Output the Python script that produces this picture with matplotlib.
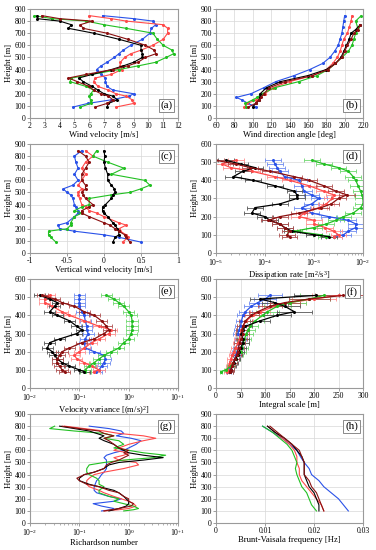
import numpy as np
import matplotlib.pyplot as plt
from matplotlib.ticker import FixedLocator, FixedFormatter, NullFormatter, LogLocator

plt.rcParams['font.family'] = ['Liberation Serif', 'DejaVu Serif']
plt.rcParams['mathtext.fontset'] = 'custom'
plt.rcParams['mathtext.rm'] = 'Liberation Serif'
plt.rcParams['mathtext.it'] = 'Liberation Serif:italic'

# colours of the five profiles
colors = ['#2a52e8', '#ff4a4a', '#22c022', '#000000', '#8b1010']
err_colors = ['#6f8cf0', '#ff8f8f', '#6fd86f', '#555555', '#b05050']

# ---- (a) wind velocity [m/s]
h_a = [90, 120, 150, 180, 200, 230, 260, 300, 330, 360, 400, 430, 460, 500, 530, 560, 600, 650, 700, 740, 770, 800, 820, 845]
vel_blue = [4.9, 5.9, 7.5, 8.7, 9.0, 7.6, 7.2, 7.1, 7.1, 6.8, 6.5, 6.8, 7.2, 7.7, 8.0, 8.3, 8.8, 9.6, 10.1, 10.2, 10.5, 10.3, 9.0, 6.9]
vel_red = [7.8, 9.0, 8.9, 8.5, 7.8, 7.3, 6.6, 6.3, 6.4, 7.5, 8.2, 8.1, 8.1, 8.4, 8.8, 9.5, 10.3, 11.0, 11.3, 11.3, 11.0, 8.5, 7.5, 6.0]
vel_green = [5.4, 6.1, 6.1, 6.0, 6.1, 6.3, 5.8, 4.7, 4.8, 6.2, 8.0, 9.3, 10.5, 11.2, 11.7, 11.6, 11.0, 10.6, 10.3, 8.5, 7.0, 5.8, 3.5, 2.3]
vel_black = [7.2, 7.3, 7.9, 7.6, 7.0, 6.6, 6.2, 5.6, 5.3, 6.2, 7.5, 8.3, 9.0, 9.6, 9.6, 9.5, 9.5, 8.0, 6.3, 4.6, 4.8, 4.0, 2.5, 2.5]
vel_darkred = [6.4, 7.2, 7.6, 7.3, 6.8, 6.3, 6.0, 5.2, 4.6, 5.8, 7.6, 8.6, 9.3, 9.8, 10.5, 10.4, 9.8, 8.6, 7.2, 5.6, 5.4, 6.2, 4.0, 2.8]

# ---- (b) wind direction [deg]
h_b = [90, 120, 150, 170, 200, 250, 300, 350, 400, 450, 500, 550, 600, 650, 700, 750, 800, 845]
h_b_short = [90, 120, 150, 170, 200, 250, 300, 350, 400, 450, 500, 550, 600, 650, 700, 730, 770]
dir_blue = [104, 95, 88, 82, 98, 112, 125, 145, 162, 176, 184, 189, 193, 195, 197, 198, 199, 200]
dir_red = [91, 94, 104, 108, 113, 122, 140, 165, 180, 187, 192, 195, 197, 199, 203, 205, 207, 208]
dir_green = [93, 92, 100, 105, 110, 124, 150, 170, 182, 190, 197, 204, 208, 210, 212, 214, 212, 218]
dir_black = [100, 103, 107, 108, 108, 115, 130, 160, 180, 190, 196, 199, 202, 205, 207, 212, 217]
dir_darkred = [95, 103, 107, 109, 112, 118, 135, 165, 182, 190, 197, 200, 203, 207, 210, 214, 217]

# ---- (c) vertical wind velocity [m/s]
h_c = [90, 130, 150, 180, 200, 230, 250, 300, 330, 350, 380, 400, 450, 480, 500, 530, 560, 600, 650, 700, 750, 800, 845]
w_blue = [0.5, 0.2, 0.0, -0.4, -0.6, -0.62, -0.5, -0.4, -0.35, -0.35, -0.38, -0.4, -0.42, -0.45, -0.5, -0.55, -0.42, -0.35, -0.4, -0.35, -0.38, -0.4, -0.3]
w_red = [0.25, 0.33, 0.3, 0.22, 0.2, 0.3, 0.2, 0.0, -0.1, -0.2, -0.25, -0.3, -0.33, -0.35, -0.35, -0.3, -0.35, -0.3, -0.25, -0.3, -0.25, -0.15, -0.25]
w_green = [-0.65, -0.72, -0.75, -0.75, -0.5, -0.45, -0.45, -0.4, -0.3, -0.4, -0.3, -0.2, -0.2, 0.1, 0.35, 0.5, 0.62, 0.55, 0.1, 0.27, 0.05, -0.15, -0.1]
w_black = [0.12, 0.15, 0.2, 0.2, 0.18, 0.15, 0.12, 0.05, 0.0, -0.02, -0.02, 0.02, 0.1, 0.12, 0.15, 0.14, 0.1, 0.05, 0.05, 0.02, 0.0, 0.01, 0.0]
w_darkred = [0.35, 0.3, 0.28, 0.2, 0.15, 0.08, 0.0, -0.2, -0.3, -0.3, -0.2, -0.15, -0.25, -0.28, -0.3, -0.25, -0.25, -0.3, -0.3, -0.25, -0.2, -0.25, -0.35]

# ---- (d), (e), (f) share the same heights
h_def = [90, 100, 120, 140, 160, 180, 200, 220, 250, 270, 300, 320, 340, 370, 400, 420, 450, 470, 490, 510]
# log10 of dissipation rate [m2/s3]
log_eps_blue = [-2.6, -2.4, -2.3, -2.15, -2.15, -2.3, -2.7, -3.05, -3.25, -3.05, -2.9, -3.05, -3.2, -3.25, -3.3, -3.6, -3.7, -3.75, -3.8, -3.83]
log_eps_red = [-2.6, -2.5, -2.6, -2.77, -3.0, -3.0, -3.3, -3.2, -2.9, -2.75, -2.63, -2.6, -2.8, -3.1, -3.5, -3.8, -4.27, -4.7, -4.88, -4.6]
log_eps_green = [-2.75, -2.85, -3.4, -3.0, -2.75, -2.55, -2.4, -2.2, -2.05, -2.0, -2.0, -2.02, -2.05, -2.1, -2.15, -2.2, -2.3, -2.5, -2.8, -3.04]
log_eps_black = [-2.7, -3.0, -3.45, -3.6, -3.7, -3.9, -4.0, -4.27, -4.2, -3.7, -3.35, -3.35, -3.4, -3.8, -4.24, -4.65, -4.45, -4.2, -4.5, -4.8]
log_eps_darkred = [-3.5, -3.55, -3.5, -3.6, -3.7, -3.93, -3.7, -3.3, -2.85, -2.65, -2.5, -2.33, -2.55, -2.8, -3.1, -3.4, -3.9, -4.3, -4.6, -5.0]
# log10 of velocity variance [(m/s)2]
log_var_blue = [-0.66, -0.6, -0.55, -0.5, -0.47, -0.5, -0.7, -0.88, -0.9, -0.88, -0.82, -0.85, -0.85, -0.88, -0.9, -0.95, -1.0, -1.0, -1.0, -1.0]
log_var_red = [-0.7, -0.6, -0.75, -0.9, -1.05, -1.1, -1.0, -0.9, -0.75, -0.6, -0.4, -0.35, -0.6, -0.9, -1.2, -1.35, -1.55, -1.7, -1.7, -1.6]
log_var_green = [-0.88, -0.88, -0.8, -0.7, -0.6, -0.5, -0.35, -0.2, -0.1, 0.0, 0.05, 0.07, 0.07, 0.07, 0.05, 0.0, -0.1, -0.2, -0.3, -0.45]
log_var_black = [-0.9, -1.0, -1.2, -1.35, -1.45, -1.5, -1.55, -1.65, -1.6, -1.4, -1.05, -0.95, -1.05, -1.2, -1.45, -1.6, -1.5, -1.45, -1.6, -1.8]
log_var_darkred = [-1.3, -1.35, -1.4, -1.45, -1.45, -1.4, -1.35, -1.2, -0.95, -0.7, -0.5, -0.4, -0.45, -0.55, -0.7, -0.9, -1.1, -1.35, -1.5, -1.75]
# integral scale [m]
L_blue = [25, 27, 30, 35, 38, 40, 43, 45, 48, 50, 45, 47, 50, 52, 55, 60, 72, 85, 100, 110]
L_red = [22, 24, 26, 28, 30, 33, 37, 40, 45, 48, 50, 52, 55, 62, 75, 90, 120, 150, 200, 250]
L_green = [10, 20, 30, 35, 40, 45, 50, 53, 56, 58, 62, 65, 70, 80, 95, 105, 125, 150, 190, 220]
L_black = [28, 30, 33, 36, 40, 44, 47, 50, 55, 55, 52, 55, 60, 90, 125, 160, 140, 120, 90, 205]
L_darkred = [28, 30, 32, 35, 38, 42, 44, 46, 48, 52, 55, 53, 55, 60, 72, 85, 110, 140, 190, 260]

# ---- (g) log10 of Richardson number
h_g = [100, 110, 120, 140, 160, 180, 200, 220, 250, 270, 300, 320, 350, 370, 400, 420, 450, 480, 500, 520, 540, 560, 580, 600, 620, 650, 680, 700, 720, 740, 760, 780, 800]
log_ri_blue = [-0.55, -0.35, -0.3, -0.55, -0.72, -0.3, -0.15, -0.4, -0.65, -0.7, -0.7, -0.68, -0.65, -0.6, -0.55, -0.5, -0.45, -0.45, -0.45, -0.45, -0.5, -0.45, -0.3, -0.1, 0.0, 0.15, 0.25, 0.05, -0.25, -0.1, -0.15, -0.4, -0.8]
log_ri_red = [-0.5, -0.2, 0.0, 0.15, 0.1, 0.0, -0.15, -0.3, -0.5, -0.6, -0.8, -0.85, -0.85, -0.8, -0.7, -0.5, -0.1, 0.2, 0.15, -0.2, -0.3, -0.1, 0.0, -0.3, -0.2, 0.0, 0.3, 0.55, 0.3, -0.2, -0.5, -0.9, -1.3]
log_ri_green = [-0.1, 0.1, 0.2, 0.1, -0.1, -0.3, -0.2, -0.4, -0.6, -0.6, -0.5, -0.6, -0.6, -0.65, -0.8, -0.85, -0.85, -0.8, -0.5, -0.1, 0.5, 0.75, 0.3, 0.0, -0.3, -0.1, -0.2, -0.5, -0.3, -0.5, -1.1, -1.6, -1.5]
log_ri_black = [-0.4, -0.3, -0.2, -0.05, 0.0, 0.0, -0.05, -0.1, -0.2, -0.3, -0.6, -0.8, -1.0, -1.0, -0.9, -0.7, -0.5, -0.4, -0.2, 0.3, 0.7, 0.3, 0.0, -0.1, -0.2, -0.3, -0.5, -0.6, -0.5, -0.65, -0.8, -1.1, -1.4]
log_ri_darkred = [-0.5, -0.35, -0.2, 0.05, 0.1, 0.0, 0.0, -0.1, -0.2, -0.4, -0.6, -0.85, -1.0, -1.05, -0.9, -0.7, -0.5, -0.45, -0.35, -0.2, -0.1, 0.0, -0.1, 0.0, -0.2, -0.3, -0.4, -0.5, -0.3, -0.5, -0.6, -1.0, -1.35]

# ---- (h) Brunt-Vaisala frequency [Hz]
h_h = [100, 150, 200, 250, 300, 350, 400, 450, 500, 550, 600, 650, 700, 750, 800]
bv_blue = [0.027, 0.026, 0.025, 0.0235, 0.022, 0.021, 0.0195, 0.019, 0.018, 0.0172, 0.0165, 0.015, 0.0135, 0.0115, 0.0095]
bv_red = [0.022, 0.0215, 0.0205, 0.0195, 0.0185, 0.0175, 0.017, 0.017, 0.0165, 0.0165, 0.016, 0.015, 0.0135, 0.012, 0.0105]
bv_green = [0.0205, 0.0195, 0.019, 0.0185, 0.0175, 0.017, 0.0165, 0.0162, 0.0165, 0.016, 0.0155, 0.0145, 0.013, 0.0115, 0.0095]
bv_black = [0.021, 0.021, 0.0205, 0.02, 0.019, 0.0185, 0.018, 0.018, 0.018, 0.0175, 0.0165, 0.0155, 0.014, 0.012, 0.0105]
bv_darkred = [0.022, 0.0215, 0.021, 0.0205, 0.0195, 0.019, 0.018, 0.018, 0.018, 0.0175, 0.017, 0.0155, 0.014, 0.0125, 0.011]

TICK = 5.5
LAB = 6.2


def style_axes(ax, ylim, yticks, xlabel):
    ax.set_ylim(*ylim)
    ax.set_yticks(yticks)
    ax.grid(True, color='#d8d8d8', linewidth=0.5)
    ax.set_axisbelow(True)
    for s in ax.spines.values():
        s.set_color('#9a9a9a')
        s.set_linewidth(0.8)
    ax.tick_params(labelsize=TICK, length=2, width=0.5, color='#777777', pad=1)
    ax.tick_params(which='minor', length=1.3, width=0.4, color='#777777')
    ax.set_xlabel(xlabel, fontsize=LAB, labelpad=0.5)
    ax.set_ylabel('Height [m]', fontsize=LAB, labelpad=1)


def panel_label(ax, text, top=True):
    y = 0.93 if top else 0.07
    va = 'top' if top else 'bottom'
    ax.text(0.965, y, text, transform=ax.transAxes, ha='right', va=va, fontsize=8,
            bbox=dict(boxstyle='square,pad=0.15', fc='white', ec='#777777', lw=0.6), zorder=10)


def log_ticks(ax, exps, labels):
    ax.set_xscale('log')
    ax.set_xlim(10.0 ** exps[0], 10.0 ** exps[-1])
    ax.xaxis.set_major_locator(FixedLocator([10.0 ** e for e in exps]))
    ax.xaxis.set_major_formatter(FixedFormatter(labels))
    ax.xaxis.set_minor_locator(LogLocator(base=10, subs=np.arange(2, 10)))
    ax.xaxis.set_minor_formatter(NullFormatter())


fig = plt.figure(figsize=(3.76, 5.5), dpi=100)
H = 0.1982
lx, lw = 0.0798, 0.3936
rx, rw = 0.5745, 0.391
bottoms = [0.7855, 0.54, 0.2945, 0.049]

# (a)
ax = fig.add_axes([lx, bottoms[0], lw, H])
for xs, c in zip([vel_blue, vel_red, vel_green, vel_black, vel_darkred], colors):
    ax.plot(xs, h_a, color=c, lw=0.8, marker='o', ms=1.2)
ax.set_xlim(2, 12)
ax.set_xticks(range(2, 13))
style_axes(ax, (0, 900), range(0, 901, 100), 'Wind velocity [m/s]')
panel_label(ax, '(a)', top=False)

# (b)
ax = fig.add_axes([rx, bottoms[0], rw, H])
for xs, hs, c in zip([dir_blue, dir_red, dir_green, dir_black, dir_darkred],
                     [h_b, h_b, h_b, h_b_short, h_b_short], colors):
    ax.plot(xs, hs, color=c, lw=0.8, marker='o', ms=1.2)
ax.set_xlim(60, 220)
ax.set_xticks(range(60, 221, 20))
style_axes(ax, (0, 900), range(0, 901, 100), 'Wind direction angle [deg]')
panel_label(ax, '(b)', top=False)

# (c)
ax = fig.add_axes([lx, bottoms[1], lw, H])
for xs, c in zip([w_blue, w_red, w_green, w_black, w_darkred], colors):
    ax.plot(xs, h_c, color=c, lw=0.8, marker='o', ms=1.2)
ax.set_xlim(-1, 1)
ax.set_xticks([-1, -0.5, 0, 0.5, 1])
ax.set_xticklabels(['-1', '-0.5', '0', '0.5', '1'])
style_axes(ax, (0, 900), range(0, 901, 100), 'Vertical wind velocity [m/s]')
panel_label(ax, '(c)')

# (d)
ax = fig.add_axes([rx, bottoms[1], rw, H])
for lx_, c, ec in zip([log_eps_blue, log_eps_red, log_eps_green, log_eps_black, log_eps_darkred], colors, err_colors):
    x = 10.0 ** np.array(lx_)
    ax.errorbar(x, h_def, xerr=[x - x / 1.45, x * 1.45 - x], color=c, ecolor=ec, lw=0.9,
                elinewidth=0.6, capsize=1.3, capthick=0.6, marker='o', ms=1.2)
log_ticks(ax, [-5, -4, -3, -2], [r'$10^{-5}$', r'$10^{-4}$', r'$10^{-3}$', r'$10^{-2}$'])
style_axes(ax, (0, 600), range(0, 601, 100), r'Dissipation rate [m$^2$/s$^3$]')
panel_label(ax, '(d)')

# (e)
ax = fig.add_axes([lx, bottoms[2], lw, H])
for lx_, c, ec in zip([log_var_blue, log_var_red, log_var_green, log_var_black, log_var_darkred], colors, err_colors):
    x = 10.0 ** np.array(lx_)
    ax.errorbar(x, h_def, xerr=[x - x / 1.3, x * 1.3 - x], color=c, ecolor=ec, lw=0.9,
                elinewidth=0.6, capsize=1.3, capthick=0.6, marker='o', ms=1.2)
log_ticks(ax, [-2, -1, 0, 1], [r'$10^{-2}$', r'$10^{-1}$', r'$10^{0}$', r'$10^{+1}$'])
style_axes(ax, (0, 600), range(0, 601, 100), r'Velocity variance [(m/s)$^2$]')
panel_label(ax, '(e)')

# (f)
ax = fig.add_axes([rx, bottoms[2], rw, H])
for xs, c, ec in zip([L_blue, L_red, L_green, L_black, L_darkred], colors, err_colors):
    x = np.array(xs, dtype=float)
    ax.errorbar(x, h_def, xerr=0.22 * x, color=c, ecolor=ec, lw=0.9,
                elinewidth=0.6, capsize=1.3, capthick=0.6, marker='o', ms=1.2)
ax.set_xlim(0, 300)
ax.set_xticks(range(0, 301, 50))
style_axes(ax, (0, 600), range(0, 601, 100), 'Integral scale [m]')
panel_label(ax, '(f)')

# (g)
ax = fig.add_axes([lx, bottoms[3], lw, H])
for lx_, c in zip([log_ri_blue, log_ri_red, log_ri_green, log_ri_black, log_ri_darkred], colors):
    ax.plot(10.0 ** np.array(lx_), h_g, color=c, lw=0.8)
log_ticks(ax, [-2, -1, 0, 1], [r'$10^{-2}$', r'$10^{-1}$', r'$10^{0}$', r'$10^{+1}$'])
style_axes(ax, (0, 900), range(0, 901, 100), 'Richardson number')
panel_label(ax, '(g)')

# (h)
ax = fig.add_axes([rx, bottoms[3], rw, H])
for xs, c in zip([bv_blue, bv_red, bv_green, bv_black, bv_darkred], colors):
    ax.plot(xs, h_h, color=c, lw=0.8)
ax.set_xlim(0, 0.03)
ax.set_xticks([0, 0.01, 0.02, 0.03])
ax.set_xticklabels(['0', '0.01', '0.02', '0.03'])
style_axes(ax, (0, 900), range(0, 901, 100), 'Brunt-Vaisala frequency [Hz]')
panel_label(ax, '(h)')

fig.savefig('out.png', dpi=100)
